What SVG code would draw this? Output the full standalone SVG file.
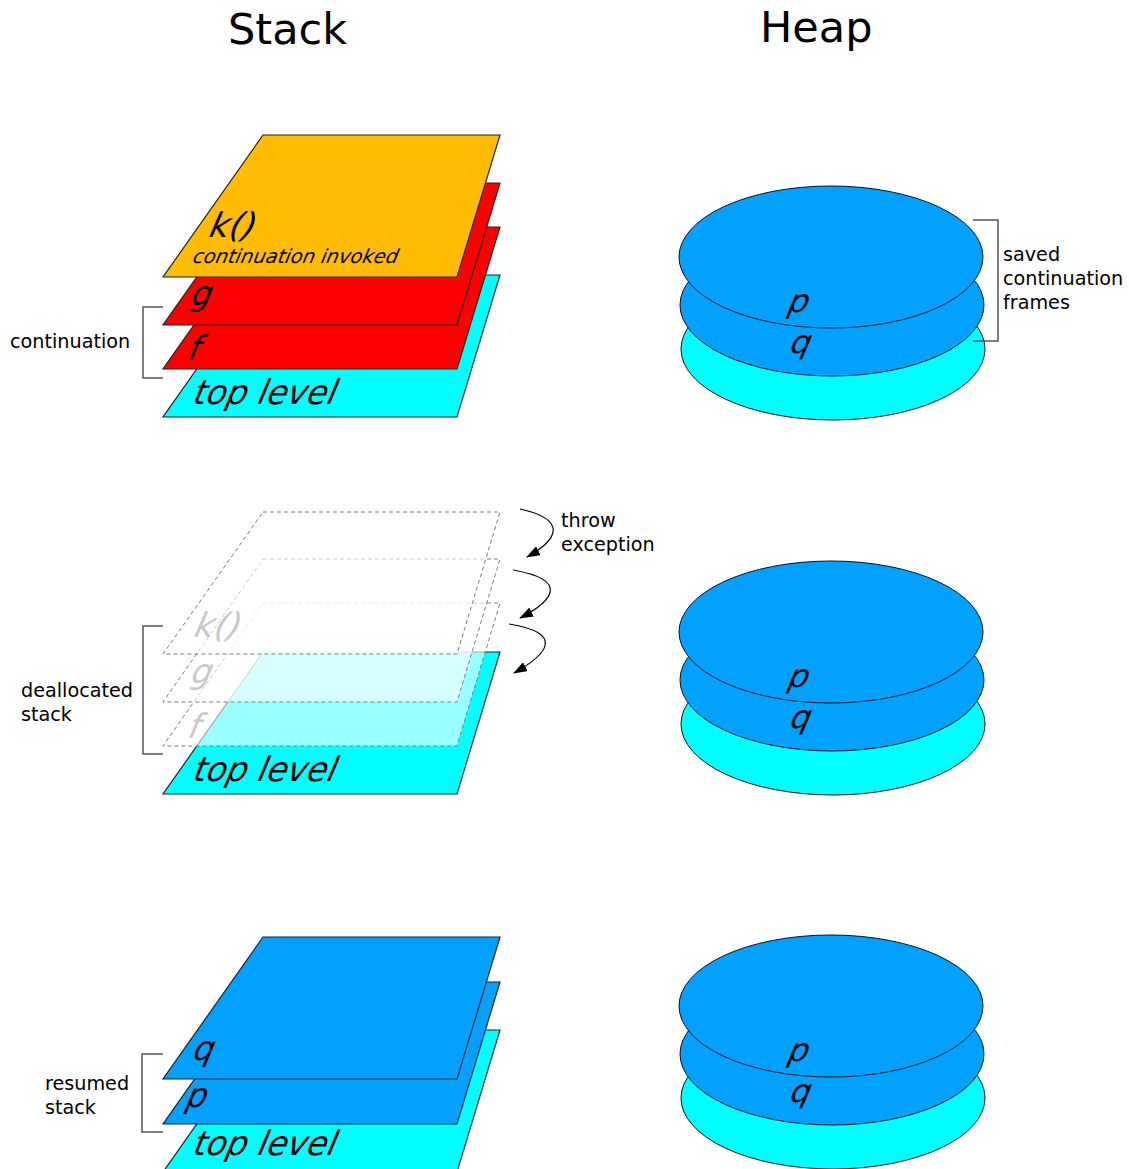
<svg xmlns="http://www.w3.org/2000/svg" width="1129" height="1169" viewBox="0 0 1129 1169">
<defs>
<style>
text{font-family:"DejaVu Sans","Liberation Sans",sans-serif;fill:#000}
.title{font-size:43px}
.lbl{font-size:19.2px}
.it{font-size:34px;font-style:italic}
.ith{font-size:32px;font-style:italic}
.itk{font-size:34px;font-style:italic}
.its{font-size:19.5px;font-style:italic}
.ghost-t{fill:#c8c8c8}
.layer{stroke:#222;stroke-width:1.2}
.ghost{fill:#fff;fill-opacity:0.6;stroke:#7a7a7a;stroke-width:1;stroke-dasharray:4 3}
.ell{stroke:#111;stroke-width:1}
.br{fill:none;stroke:#555;stroke-width:1.5}
.arr{fill:none;stroke:#000;stroke-width:1.2}
.orange{fill:#ffbc00}.red{fill:#ff0000}.cyan{fill:#00ffff}.blue{fill:#00a1ff}
</style>
<marker id="ah" viewBox="0 0 14 10" refX="13" refY="5" markerWidth="14" markerHeight="10" markerUnits="userSpaceOnUse" orient="auto">
<path d="M0,0 L14,5 L0,10 z" fill="#000"/>
</marker>
</defs>
<rect width="1129" height="1169" fill="#fff"/>
<g id="titles">
<text class="title" x="228" y="43.5">Stack</text>
<text class="title" x="760" y="42">Heap</text>
</g>
<!-- Section 1: stack -->
<g id="stack1-top">
<polygon class="layer cyan" points="263,275 500,275 457,417 163,417"/>
<text class="it" transform="translate(192,404) skewX(-13) scale(0.97,1)">top level</text>
</g>
<g id="stack1-f">
<polygon class="layer red" points="263,227 500,227 457,369 163,369"/>
<text class="it" transform="translate(187,360) skewX(-13) scale(0.95,1)">f</text>
</g>
<g id="stack1-g">
<polygon class="layer red" points="263,183 500,183 457,325 163,325"/>
<text class="it" transform="translate(190,305) skewX(-13) scale(0.95,1)">g</text>
</g>
<g id="stack1-k">
<polygon class="layer orange" points="263,135 500,135 457,277 163,277"/>
<text class="itk" transform="translate(208,237) skewX(-13)">k()</text>
<text class="its" transform="translate(192,263) skewX(-12)">continuation invoked</text>
</g>
<!-- Section 1: heap -->
<g id="heap1">
<ellipse class="ell cyan" cx="833" cy="349" rx="152" ry="71"/>
<ellipse class="ell blue" cx="832" cy="305" rx="152" ry="71"/>
<ellipse class="ell blue" cx="831" cy="257" rx="152" ry="71"/>
<text class="ith" transform="translate(787,312) skewX(-13)">p</text>
<text class="ith" transform="translate(789,353) skewX(-13)">q</text>
</g>
<!-- Section 2: stack -->
<g id="stack2-top">
<polygon class="layer cyan" points="263,652 500,652 457,794 163,794"/>
<text class="it" transform="translate(192,781) skewX(-13) scale(0.97,1)">top level</text>
</g>
<g id="stack2-f">
<polygon class="ghost" points="263,603 500,603 457,746 163,746"/>
<text class="it ghost-t" transform="translate(187,738) skewX(-13) scale(0.95,1)">f</text>
</g>
<g id="stack2-g">
<polygon class="ghost" points="263,559 500,559 457,702 163,702"/>
<text class="it ghost-t" transform="translate(190,683) skewX(-13) scale(0.95,1)">g</text>
</g>
<g id="stack2-k">
<polygon class="ghost" points="263,512 500,512 457,654 163,654"/>
<text class="itk ghost-t" transform="translate(193,637) skewX(-13)">k()</text>
</g>
<!-- Section 2: heap -->
<g id="heap2">
<ellipse class="ell cyan" cx="833" cy="724" rx="152" ry="71"/>
<ellipse class="ell blue" cx="832" cy="680" rx="152" ry="71"/>
<ellipse class="ell blue" cx="831" cy="632" rx="152" ry="71"/>
<text class="ith" transform="translate(787,687) skewX(-13)">p</text>
<text class="ith" transform="translate(789,728) skewX(-13)">q</text>
</g>
<!-- Section 3: stack -->
<g id="stack3-top">
<polygon class="layer cyan" points="263,1030 500,1030 457,1172 163,1172"/>
<text class="it" transform="translate(192,1155) skewX(-13) scale(0.97,1)">top level</text>
</g>
<g id="stack3-p">
<polygon class="layer blue" points="263,982 500,982 457,1124 163,1124"/>
<text class="it" transform="translate(185,1107) skewX(-13) scale(0.95,1)">p</text>
</g>
<g id="stack3-q">
<polygon class="layer blue" points="263,937 500,937 457,1079 163,1079"/>
<text class="it" transform="translate(192,1060) skewX(-13) scale(0.95,1)">q</text>
</g>
<!-- Section 3: heap -->
<g id="heap3">
<ellipse class="ell cyan" cx="833" cy="1098" rx="152" ry="71"/>
<ellipse class="ell blue" cx="832" cy="1054" rx="152" ry="71"/>
<ellipse class="ell blue" cx="831" cy="1006" rx="152" ry="71"/>
<text class="ith" transform="translate(787,1061) skewX(-13)">p</text>
<text class="ith" transform="translate(789,1102) skewX(-13)">q</text>
</g>
<!-- Brackets and labels -->
<g id="label-continuation">
<path class="br" d="M163,307 H143 V378 H163"/>
<text class="lbl" x="10" y="348">continuation</text>
</g>
<g id="label-saved">
<path class="br" d="M973,220 H998 V341 H973"/>
<text class="lbl" x="1003" y="261">saved</text>
<text class="lbl" x="1003" y="285">continuation</text>
<text class="lbl" x="1003" y="309">frames</text>
</g>
<g id="label-deallocated">
<path class="br" d="M163,626 H143 V754 H163"/>
<text class="lbl" x="21" y="697">deallocated</text>
<text class="lbl" x="21" y="721">stack</text>
</g>
<g id="label-resumed">
<path class="br" d="M163,1054 H142 V1132 H163"/>
<text class="lbl" x="45" y="1090">resumed</text>
<text class="lbl" x="45" y="1114">stack</text>
</g>
<g id="label-throw">
<text class="lbl" x="561" y="527">throw</text>
<text class="lbl" x="561" y="551">exception</text>
</g>
<g id="connectors">
<path class="arr" marker-end="url(#ah)" d="M520,509 C570,520 556,541 527,557"/>
<path class="arr" marker-end="url(#ah)" d="M513,570 C570,580 553,601 520,618"/>
<path class="arr" marker-end="url(#ah)" d="M509,624 C565,633 548,654 514,673"/>
</g>
</svg>
